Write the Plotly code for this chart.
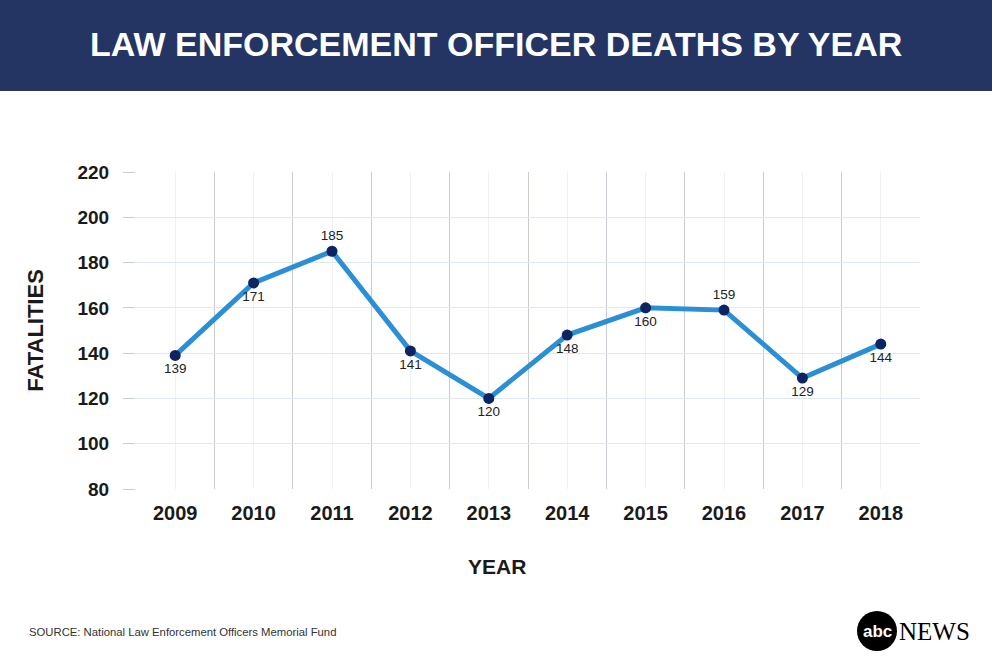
import plotly.graph_objects as go

years = ["2009", "2010", "2011", "2012", "2013", "2014", "2015", "2016", "2017", "2018"]
deaths = [139, 171, 185, 141, 120, 148, 160, 159, 129, 144]
label_pos = ["bottom center", "bottom center", "top center", "bottom center", "bottom center",
             "bottom center", "bottom center", "top center", "bottom center", "bottom center"]
y_ticks = [80, 100, 120, 140, 160, 180, 200, 220]

xs = list(range(len(years)))
bounds = [i - 0.5 for i in range(len(years) + 1)]

fig = go.Figure()
fig.add_trace(go.Scatter(
    x=xs, y=deaths, mode="lines+markers+text",
    line=dict(color="#2b8fd6", width=5),
    marker=dict(color="#0c2461", size=11),
    text=[str(v) for v in deaths], textposition=label_pos,
    textfont=dict(family="Liberation Sans, Arial", size=13.5, color="#222222"),
    cliponaxis=False, hoverinfo="skip", showlegend=False,
))

L, R, T, B = 136, 72, 172, 181
W, H = 992, 670
pw, ph = W - L - R, H - T - B

def px(x):
    return (x - L) / pw

def py(y):
    return (T + ph - y) / ph

fig.update_layout(
    width=W, height=H,
    margin=dict(l=L, r=R, t=T, b=B),
    paper_bgcolor="white", plot_bgcolor="white",
    xaxis=dict(
        range=[-0.5, len(years) - 0.5],
        tickmode="array", tickvals=xs, ticktext=years,
        showgrid=True, gridcolor="#eef1f5", gridwidth=1,
        tickfont=dict(family="Liberation Sans, Arial", size=20, color="#1a1a1a", weight="bold"),
        ticks="", zeroline=False, showline=False, ticklabelstandoff=10,
        minor=dict(tickmode="array", tickvals=bounds, showgrid=True,
                   gridcolor="#c9ccd1", gridwidth=1, ticks=""),
    ),
    yaxis=dict(
        range=[80, 220], tickmode="array", tickvals=y_ticks,
        showgrid=True, gridcolor="#dfe7ef", gridwidth=1,
        ticks="outside", ticklen=12, tickcolor="#c9ccd1", tickwidth=1,
        ticklabelstandoff=10,
        tickfont=dict(family="Liberation Sans, Arial", size=19, color="#1a1a1a", weight="bold"),
        zeroline=False, showline=False,
        title=dict(text="FATALITIES", standoff=27,
                   font=dict(family="Liberation Sans, Arial", size=22, color="#1a1a1a", weight="bold")),
    ),
)

# x axis title (offset from plot centre as in the original)
fig.add_annotation(xref="paper", yref="paper", x=px(497), y=py(566),
                   text="YEAR", showarrow=False, xanchor="center", yanchor="middle",
                   font=dict(family="Liberation Sans, Arial", size=21, color="#1a1a1a", weight="bold"))

# title banner
fig.add_shape(type="rect", xref="paper", yref="paper",
              x0=px(0), x1=px(W), y0=py(91), y1=py(0),
              fillcolor="#243463", line=dict(width=0), layer="below")
fig.add_annotation(xref="paper", yref="paper", x=px(496), y=py(44),
                   text="LAW ENFORCEMENT OFFICER DEATHS BY YEAR", showarrow=False,
                   xanchor="center", yanchor="middle",
                   font=dict(family="Liberation Sans, Arial", size=34,
                             color="white", weight="bold"))

# source
fig.add_annotation(xref="paper", yref="paper", x=px(27), y=py(632),
                   text="SOURCE: National Law Enforcement Officers Memorial Fund", showarrow=False,
                   xanchor="left", yanchor="middle",
                   font=dict(family="Liberation Sans, Arial", size=11.3, color="#333333"))

# abc news logo
cx, cy, r = 877, 631, 20
fig.add_shape(type="circle", xref="paper", yref="paper",
              x0=px(cx - r), x1=px(cx + r), y0=py(cy + r), y1=py(cy - r),
              fillcolor="black", line=dict(width=0))
fig.add_annotation(xref="paper", yref="paper", x=px(cx), y=py(cy),
                   text="abc", showarrow=False, xanchor="center", yanchor="middle",
                   font=dict(family="Liberation Sans, Arial", size=17, color="white", weight="bold"))
fig.add_annotation(xref="paper", yref="paper", x=px(897), y=py(631),
                   text="NEWS", showarrow=False, xanchor="left", yanchor="middle",
                   font=dict(family="Liberation Serif, Times New Roman", size=25, color="black"))

fig.write_html("out.html", config={"displayModeBar": False},
               post_script="document.body.style.margin='0';")
